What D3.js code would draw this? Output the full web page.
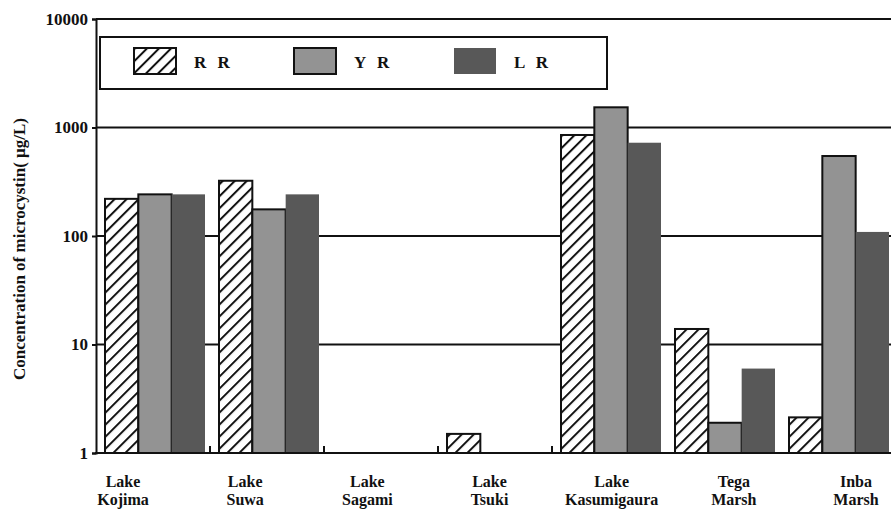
<!DOCTYPE html>
<html><head><meta charset="utf-8">
<script src="https://cdn.jsdelivr.net/npm/d3@7"></script>
<style>
html,body{margin:0;padding:0;background:#fff;}
svg{display:block;}
text{font-family:"Liberation Serif","Times New Roman",serif;font-weight:bold;fill:#111;}
</style></head>
<body>
<svg id="chart" width="891" height="509"></svg>
<script>
const categories = ["Lake Kojima","Lake Suwa","Lake Sagami","Lake Tsuki","Lake Kasumigaura","Tega Marsh","Inba Marsh"];
const seriesNames = ["R R","Y R","L R"];
const rrValues = [220, 323, null, 1.5, 853, 13.9, 2.13];
const yrValues = [242, 176, null, null, 1535, 1.9, 546];
const lrValues = [242, 242, null, null, 724, 6.0, 109];
const yTicks = [1, 10, 100, 1000, 10000];
const boundaryTicks = categories.slice(1, 5);

const svg = d3.select("#chart");
const defs = svg.append("defs");
const hatch = defs.append("pattern").attr("id","hatch").attr("patternUnits","userSpaceOnUse")
  .attr("width",8.5).attr("height",8.5).attr("patternTransform","rotate(45)");
hatch.append("rect").attr("width",8.5).attr("height",8.5).attr("fill","#fff");
hatch.append("line").attr("x1",1).attr("y1",0).attr("x2",1).attr("y2",8.5).attr("stroke","#111").attr("stroke-width",2);

const fills = {"R R":"url(#hatch)","Y R":"#939393","L R":"#585858"};
const strokes = {"R R":"#111","Y R":"#111","L R":"none"};

const x0 = d3.scaleBand().domain(categories).range([96, 894]).padding(0);
const x1 = d3.scaleBand().domain(seriesNames).range([9, 109]).padding(0);
const xLabel = d3.scalePoint().domain(categories).range([123, 856]);
const y = d3.scaleLog().domain([1, 10000]).range([453, 19]);

// gridlines
svg.append("g").selectAll("line").data(yTicks.slice(1)).join("line")
  .attr("x1", 96).attr("x2", 891).attr("y1", d => y(d)).attr("y2", d => y(d))
  .attr("stroke","#111").attr("stroke-width",2);

// bars
const table = categories.map((c,i) => ({cat:c, vals:[
  {s:"R R", v:rrValues[i]}, {s:"Y R", v:yrValues[i]}, {s:"L R", v:lrValues[i]}]}));
const groups = svg.append("g").selectAll("g").data(table).join("g")
  .attr("transform", d => `translate(${x0(d.cat)},0)`);
groups.selectAll("rect").data(d => d.vals.filter(v => v.v != null)).join("rect")
  .attr("x", d => x1(d.s)).attr("width", x1.bandwidth())
  .attr("y", d => y(d.v)).attr("height", d => y(1) - y(d.v))
  .attr("fill", d => fills[d.s]).attr("stroke", d => strokes[d.s]).attr("stroke-width", 2);

// y axis
const yAxis = d3.axisLeft(y).tickValues(yTicks).tickFormat(d3.format("d")).tickSize(4).tickPadding(4);
const gy = svg.append("g").attr("transform","translate(96,0)").call(yAxis);
gy.select(".domain").attr("stroke","#111").attr("stroke-width",2);
gy.selectAll(".tick line").attr("stroke","#111").attr("stroke-width",2);
gy.selectAll(".tick text").style("font-size","17px").style("font-family","Liberation Serif").style("font-weight","bold").attr("fill","#111");

// bottom axis line with boundary ticks
svg.append("line").attr("x1",95).attr("x2",891).attr("y1",y(1)).attr("y2",y(1)).attr("stroke","#111").attr("stroke-width",2);
svg.append("g").selectAll("line").data(boundaryTicks).join("line")
  .attr("x1", d => x0(d)).attr("x2", d => x0(d)).attr("y1", y(1)).attr("y2", y(1)-7)
  .attr("stroke","#111").attr("stroke-width",2);

// x labels
const labels = svg.append("g").selectAll("text").data(categories).join("text")
  .attr("x", d => xLabel(d)).attr("y", 487).attr("text-anchor","middle").style("font-size","16px");
labels.each(function(d){
  const parts = d.split(" ");
  d3.select(this).selectAll("tspan").data(parts).join("tspan")
    .attr("x", d3.select(this).attr("x")).attr("dy", (p,i) => i ? 18 : 0).text(p => p);
});

// y title
svg.append("text").attr("transform","translate(25,249) rotate(-90)").attr("text-anchor","middle")
  .style("font-size","17px").text("Concentration of microcystin( \u03bcg/L)");

// legend
svg.append("rect").attr("x",100).attr("y",37).attr("width",507).attr("height",52)
  .attr("fill","#fff").attr("stroke","#111").attr("stroke-width",2);
const leg = svg.append("g").selectAll("g").data(seriesNames).join("g")
  .attr("transform", (d,i) => `translate(${134 + i*160},48)`);
leg.append("rect").attr("width",42).attr("height",26)
  .attr("fill", d => fills[d]).attr("stroke", d => strokes[d]).attr("stroke-width",2);
leg.append("text").attr("x",60).attr("y",20).style("font-size","17px").style("word-spacing","7px").text(d => d);
</script>
</body></html>
